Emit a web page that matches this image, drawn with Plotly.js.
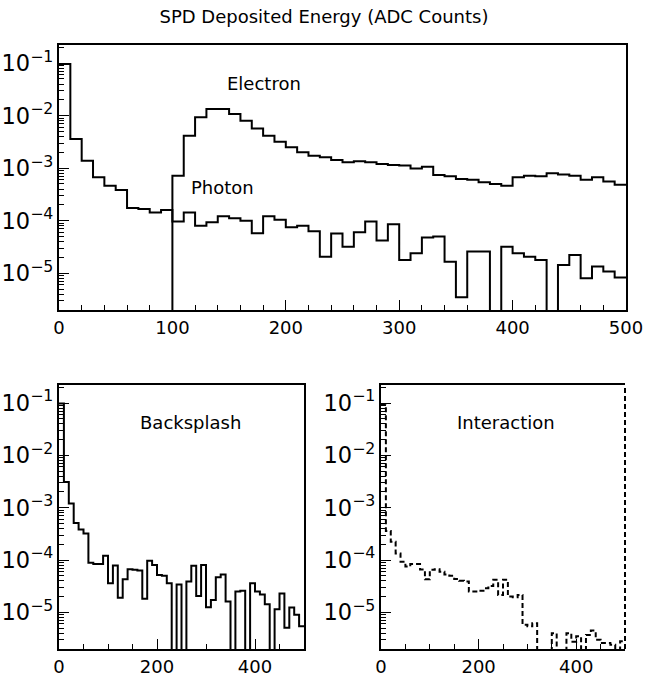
<!DOCTYPE html>
<html>
<head>
<meta charset="utf-8">
<script src="https://cdn.plot.ly/plotly-3.0.1.min.js"></script>
<style>html,body{margin:0;padding:0;background:#fff;}#chart{width:648px;height:676px;}</style>
</head>
<body>
<div id="chart"></div>
<script>
// ---- Data (50 bins of 10 ADC counts, 0..500) ----
const BIN_WIDTH = 10;
const N_BINS = 50;
const binEdges = Array.from({length: N_BINS + 1}, (_, i) => i * BIN_WIDTH);

const photon = [
  9.6e-2, 3.6e-3, 1.39e-3, 6.7e-4, 4.65e-4, 3.84e-4, 1.74e-4, 1.67e-4, 1.44e-4, 1.6e-4,
  9.7e-5, 1.44e-4, 8.0e-5, 9.3e-5, 1.21e-4, 1.11e-4, 1.0e-4, 5.8e-5, 1.21e-4, 1.04e-4,
  7.5e-5, 8.0e-5, 6.3e-5, 2.06e-5, 5.7e-5, 3.2e-5, 6.0e-5, 9.7e-5, 4.2e-5, 8.6e-5,
  1.78e-5, 2.39e-5, 4.8e-5, 5.0e-5, 1.66e-5, 3.5e-6, 2.6e-5, 2.6e-5, 0, 3.2e-5,
  2.39e-5, 2.06e-5, 1.78e-5, 0, 1.43e-5, 2.22e-5, 8.0e-6, 1.35e-5, 1.08e-5, 8.3e-6
];
const electron = [
  0, 0, 0, 0, 0, 0, 0, 0, 0, 0,
  7.2e-4, 4.16e-3, 9.3e-3, 1.34e-2, 1.34e-2, 1.08e-2, 8.0e-3, 5.7e-3, 4.16e-3, 3.2e-3,
  2.49e-3, 2.0e-3, 1.73e-3, 1.61e-3, 1.43e-3, 1.29e-3, 1.35e-3, 1.29e-3, 1.2e-3, 1.15e-3,
  1.12e-3, 9.9e-4, 1.07e-3, 7.4e-4, 7.0e-4, 6.2e-4, 6.0e-4, 5.4e-4, 5.0e-4, 4.65e-4,
  6.7e-4, 7.2e-4, 7.0e-4, 8.0e-4, 7.6e-4, 7.2e-4, 6.0e-4, 6.7e-4, 5.6e-4, 4.85e-4
];
const backsplash = [
  9.8e-2, 3.1e-3, 1.2e-3, 5.1e-4, 3.84e-4, 3.2e-4, 8.9e-5, 8.4e-5, 8.4e-5, 1.21e-4,
  3.6e-5, 7.9e-5, 1.91e-5, 4.3e-5, 6.7e-5, 6.5e-5, 6.3e-5, 1.83e-5, 9.7e-5, 8.0e-5,
  5.2e-5, 5.0e-5, 3.6e-5, 0, 3.4e-5, 0, 3.9e-5, 7.8e-5, 2.06e-5, 8.0e-5,
  1.25e-5, 1.73e-5, 4.7e-5, 5.3e-5, 1.61e-5, 0, 2.5e-5, 2.6e-5, 0, 3.6e-5,
  2.5e-5, 2.2e-5, 1.43e-5, 0, 1.15e-5, 2.3e-5, 5.1e-6, 1.24e-5, 9.0e-6, 5.4e-6
];
const interaction = [
  9.5e-2, 3.6e-4, 2.23e-4, 1.34e-4, 9.3e-5, 7.5e-5, 8.4e-5, 8.4e-5, 6.6e-5, 4.3e-5,
  6.5e-5, 6.7e-5, 6.0e-5, 5.3e-5, 5.0e-5, 4.35e-5, 4.0e-5, 3.9e-5, 2.5e-5, 2.5e-5,
  2.6e-5, 2.9e-5, 3.2e-5, 4.2e-5, 2.15e-5, 4.2e-5, 2.0e-5, 1.95e-5, 2.15e-5, 5.8e-6,
  5.4e-6, 6.2e-6, 0, 0, 0, 4.0e-6, 0, 0, 4.0e-6, 2.75e-6,
  3.5e-6, 0, 3.7e-6, 4.5e-6, 3.0e-6, 2.6e-6, 2.6e-6, 2.4e-6, 0, 2.8e-6
];

const titleText = 'SPD Deposited Energy (ADC Counts)';
const labels = ['Electron', 'Photon', 'Backsplash', 'Interaction'];

// ---- Build step histograms ----
const FLOOR = 1e-9; // empty bins drawn below the visible range (as in the original)
function stepTrace(vals, xa, ya, dash) {
  const xs = binEdges.slice();
  const ys = vals.map(v => v > 0 ? v : FLOOR);
  ys.push(ys[ys.length - 1]);
  return {
    type: 'scatter', mode: 'lines', x: xs, y: ys, xaxis: xa, yaxis: ya,
    line: {shape: 'hv', color: 'black', width: 2, dash: dash || 'solid'},
    hoverinfo: 'skip'
  };
}

const traces = [
  stepTrace(electron, 'x', 'y'),
  stepTrace(photon, 'x', 'y'),
  stepTrace(backsplash, 'x2', 'y2'),
  stepTrace(interaction, 'x3', 'y3', '5px,3px')
];

const W = 648, H = 676;
const FONT = 'DejaVu Sans, Liberation Sans, sans-serif';
function xax(dom, anchor, dtick, minorDtick, mirror) {
  return {
    domain: dom, anchor: anchor, range: [0, 500], tick0: 0, dtick: dtick,
    showline: true, linecolor: 'black', linewidth: 2, mirror: mirror,
    ticks: 'inside', ticklen: 10, tickwidth: 1, tickcolor: 'black',
    minor: {ticks: 'inside', dtick: minorDtick, tick0: 0, ticklen: 5, tickwidth: 1, tickcolor: 'black', showgrid: false},
    showgrid: false, zeroline: false, tickfont: {size: 18, family: FONT, color: 'black'}
  };
}
function yax(dom, anchor, mirror) {
  return {
    domain: dom, anchor: anchor, type: 'log', range: [-5.7, -0.655], dtick: 1,
    exponentformat: 'power',
    showline: true, linecolor: 'black', linewidth: 2, mirror: mirror,
    ticks: 'inside', ticklen: 10, tickwidth: 1, tickcolor: 'black',
    minor: {ticks: 'inside', dtick: 'D1', ticklen: 5, tickwidth: 1, tickcolor: 'black', showgrid: false},
    showgrid: false, zeroline: false, tickfont: {size: 18, family: FONT, color: 'black'}
  };
}

const layout = {
  width: W, height: H,
  margin: {l: 0, r: 0, t: 0, b: 0, pad: 0},
  paper_bgcolor: 'white', plot_bgcolor: 'white', showlegend: false,
  font: {family: FONT, size: 18, color: 'black'},
  title: {text: titleText, x: 0.5, xanchor: 'center', y: 1 - 17 / H, yanchor: 'middle',
          font: {size: 18, family: FONT, color: 'black'}},
  xaxis: xax([59 / W, 626 / W], 'y', 100, 20, true),
  yaxis: yax([1 - 310 / H, 1 - 45 / H], 'x', true),
  xaxis2: xax([59 / W, 304 / W], 'y2', 200, 50, true),
  yaxis2: yax([1 - 649 / H, 1 - 385 / H], 'x2', true),
  xaxis3: xax([381 / W, 625 / W], 'y3', 200, 50, true),
  yaxis3: yax([1 - 649 / H, 1 - 385 / H], 'x3', false),
  shapes: [
    {type: 'line', xref: 'x3 domain', yref: 'y3 domain', x0: 1, x1: 1, y0: 0, y1: 1,
     line: {color: 'black', width: 2, dash: '5px,3px'}}
  ],
  annotations: [
    {text: labels[0], xref: 'paper', yref: 'paper', x: 264 / W, y: 1 - 83 / H, showarrow: false, xanchor: 'center', yanchor: 'middle', font: {size: 18}},
    {text: labels[1], xref: 'paper', yref: 'paper', x: 222 / W, y: 1 - 187 / H, showarrow: false, xanchor: 'center', yanchor: 'middle', font: {size: 18}},
    {text: labels[2], xref: 'paper', yref: 'paper', x: 190 / W, y: 1 - 422 / H, showarrow: false, xanchor: 'center', yanchor: 'middle', font: {size: 18}},
    {text: labels[3], xref: 'paper', yref: 'paper', x: 506 / W, y: 1 - 422 / H, showarrow: false, xanchor: 'center', yanchor: 'middle', font: {size: 18}}
  ]
};

Plotly.newPlot('chart', traces, layout, {staticPlot: true, displayModeBar: false});
</script>
</body>
</html>
